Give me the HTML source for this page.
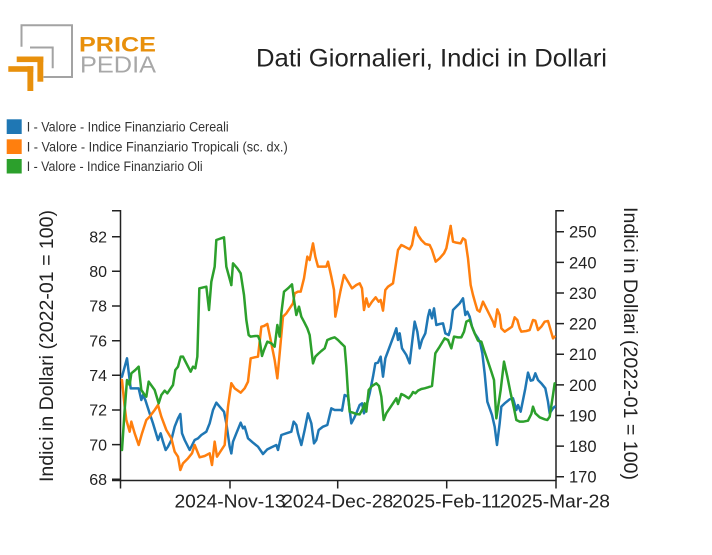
<!DOCTYPE html>
<html>
<head>
<meta charset="utf-8">
<style>
html,body{margin:0;padding:0;background:#fff;}
svg{display:block;}
text{font-family:"Liberation Sans",sans-serif;}
</style>
</head>
<body>
<svg width="712" height="555" viewBox="0 0 712 555" xmlns="http://www.w3.org/2000/svg">
<rect width="712" height="555" fill="#fff"/>

<!-- Logo -->
<g fill="none" stroke="#a3a3a3" stroke-width="2">
  <path d="M21.5,46.7 V25.3 H72 V77 H43.5"/>
  <path d="M30,47.5 H52.7 V68.3"/>
</g>
<g fill="#e8900c">
  <rect x="16.7" y="56.5" width="26.6" height="5.6"/>
  <rect x="37.4" y="56.5" width="5.9" height="25.2"/>
  <rect x="8.3" y="66.2" width="25" height="5.6"/>
  <rect x="27.4" y="66.2" width="5.9" height="24.8"/>
</g>
<text x="79" y="51.7" font-size="21" font-weight="bold" fill="#e8900c" textLength="77" lengthAdjust="spacingAndGlyphs">PRICE</text>
<text x="80" y="72.5" font-size="23" fill="#a8a8a8" textLength="76" lengthAdjust="spacingAndGlyphs">PEDIA</text>

<!-- Title -->
<text x="256" y="66.7" font-size="25" fill="#222" textLength="351" lengthAdjust="spacingAndGlyphs">Dati Giornalieri, Indici in Dollari</text>

<!-- Legend -->
<rect x="6.7" y="119.3" width="15" height="14.7" fill="#1f77b4"/>
<rect x="6.7" y="139.3" width="15" height="14.7" fill="#ff7f0e"/>
<rect x="6.7" y="159" width="15" height="14.5" fill="#2ca02c"/>
<text x="26.7" y="131.7" font-size="13.5" fill="#333" textLength="202" lengthAdjust="spacingAndGlyphs">I - Valore - Indice Finanziario Cereali</text>
<text x="26.7" y="151.7" font-size="13.5" fill="#333" textLength="261" lengthAdjust="spacingAndGlyphs">I - Valore - Indice Finanziario Tropicali (sc. dx.)</text>
<text x="26.7" y="170.9" font-size="13.5" fill="#333" textLength="176" lengthAdjust="spacingAndGlyphs">I - Valore - Indice Finanziario Oli</text>

<!-- Axes -->
<g stroke="#222" stroke-width="1.5" fill="none">
  <path d="M112,210.7 H120.5 V480.5 H112"/>
  <path d="M564,210.7 H556 V480.5"/>
  <path d="M120.5,488.5 V480.5 H556 V488.5"/>
  <!-- left ticks -->
  <path d="M112,479.3H120.5M112,444.6H120.5M112,410H120.5M112,375.3H120.5M112,340.7H120.5M112,306H120.5M112,271.3H120.5M112,236.7H120.5"/>
  <!-- right ticks -->
  <path d="M556,476.7H564M556,446.1H564M556,415.5H564M556,384.9H564M556,354.2H564M556,323.6H564M556,293H564M556,262.4H564M556,231.7H564"/>
  <!-- bottom ticks -->
  <path d="M230,480.5V488.5M337.7,480.5V488.5M446.7,480.5V488.5"/>
</g>

<!-- left tick labels -->
<g font-size="16" fill="#222" text-anchor="end">
  <text x="107" y="485">68</text>
  <text x="107" y="450.3">70</text>
  <text x="107" y="415.7">72</text>
  <text x="107" y="381">74</text>
  <text x="107" y="346.4">76</text>
  <text x="107" y="311.7">78</text>
  <text x="107" y="277">80</text>
  <text x="107" y="242.4">82</text>
</g>
<!-- right tick labels -->
<g font-size="16.5" fill="#222">
  <text x="569" y="482.6">170</text>
  <text x="569" y="452">180</text>
  <text x="569" y="421.4">190</text>
  <text x="569" y="390.8">200</text>
  <text x="569" y="360.1">210</text>
  <text x="569" y="329.5">220</text>
  <text x="569" y="298.9">230</text>
  <text x="569" y="268.3">240</text>
  <text x="569" y="237.6">250</text>
</g>
<!-- bottom tick labels -->
<g font-size="18.5" fill="#222" text-anchor="middle">
  <text x="230" y="507.7" textLength="111" lengthAdjust="spacingAndGlyphs">2024-Nov-13</text>
  <text x="337.7" y="507.7" textLength="111" lengthAdjust="spacingAndGlyphs">2024-Dec-28</text>
  <text x="446.7" y="507.7" textLength="109" lengthAdjust="spacingAndGlyphs">2025-Feb-11</text>
  <text x="555" y="507.7" textLength="110" lengthAdjust="spacingAndGlyphs">2025-Mar-28</text>
</g>

<!-- axis titles -->
<text transform="translate(53,346) rotate(-90)" text-anchor="middle" font-size="19.5" fill="#222" textLength="272" lengthAdjust="spacingAndGlyphs">Indici in Dollari (2022-01 = 100)</text>
<text transform="translate(624,343.5) rotate(90)" text-anchor="middle" font-size="19.5" fill="#222" textLength="273" lengthAdjust="spacingAndGlyphs">Indici in Dollari (2022-01 = 100)</text>

<!-- Series -->
<g fill="none" stroke-width="2.5" stroke-linejoin="round" stroke-linecap="round">
  <!-- panel 1 -->
  <g transform="translate(118,220) scale(0.333333)">
    <polyline vector-effect="non-scaling-stroke" stroke="#1f77b4" points="12,470 27,415 38,505 62,505 70,540 75,525 82,540 95,580 105,610 120,660 128,640 135,665 143,690 150,680 160,660 170,620 180,595 187,582 192,640 200,660 215,690 230,660 240,655 250,645 265,635 275,610 285,570 295,548 305,560 318,575 325,610 335,680 340,700"/>
    <polyline vector-effect="non-scaling-stroke" stroke="#ff7f0e" points="12,480 20,560 25,600 35,635 40,605 50,640 62,675 72,640 85,600 95,590 110,570 120,555 130,590 145,630 160,655 170,695 180,710 187,750 195,730 210,715 222,700 230,675 245,712 260,708 275,700 282,735 290,665 297,710 320,675 330,560 340,490"/>
    <polyline vector-effect="non-scaling-stroke" stroke="#2ca02c" points="12,690 20,570 27,480 35,495 40,460 52,450 62,440 70,510 80,525 85,530 92,485 110,510 122,550 130,525 140,512 148,520 165,495 172,450 180,440 188,410 195,410 205,430 218,455 225,440 232,445 238,410 244,205 265,200 273,270 280,185 290,140 295,60 318,52 325,140 340,195"/>
  </g>
  <!-- panel 2 -->
  <g transform="translate(228,220) scale(0.333333)">
    <polyline vector-effect="non-scaling-stroke" stroke="#1f77b4" points="10,700 15,665 25,640 38,608 45,625 50,620 60,655 75,668 90,680 105,702 118,688 130,682 145,675 150,690 160,645 175,640 190,635 197,605 205,615 210,640 220,675 230,630 240,580 250,610 258,670 265,660 272,630 285,620 298,615 310,565 320,570 340,570"/>
    <polyline vector-effect="non-scaling-stroke" stroke="#ff7f0e" points="10,490 20,505 38,518 50,505 60,485 68,415 80,412 90,410 100,320 108,318 118,312 128,360 140,420 148,475 155,400 165,290 175,280 185,265 195,250 200,220 210,215 218,215 228,175 238,110 245,120 255,70 262,110 270,140 282,140 295,140 300,125 310,170 318,210 322,290 330,250 338,210"/>
    <polyline vector-effect="non-scaling-stroke" stroke="#2ca02c" points="10,195 15,130 28,145 38,160 48,225 55,300 62,345 68,350 82,348 90,348 95,360 102,408 108,390 118,365 130,370 140,380 148,315 155,350 160,280 168,215 180,205 192,193 198,240 205,285 213,260 220,290 228,305 238,325 245,345 255,430 262,410 270,402 280,393 290,385 298,360 310,355 320,352 330,360 340,370"/>
  </g>
  <!-- panel 3 -->
  <g transform="translate(338,220) scale(0.333333)">
    <polyline vector-effect="non-scaling-stroke" stroke="#1f77b4" points="10,570 12,572 20,525 30,530 40,610 48,595 55,580 65,555 72,550 78,580 85,560 95,520 105,470 112,430 120,428 128,410 135,470 142,415 155,380 168,345 175,325 180,360 185,340 192,385 205,405 215,430 222,370 230,305 238,335 245,385 252,360 262,340 270,290 275,270 282,295 288,265 295,315 305,312 315,310 322,340 332,345"/>
    <polyline vector-effect="non-scaling-stroke" stroke="#ff7f0e" points="8,210 18,165 30,185 42,205 55,195 65,190 72,205 78,270 85,235 92,260 102,245 113,232 122,245 128,240 135,272 142,210 150,200 165,190 180,90 190,75 200,80 215,88 222,75 232,22 240,45 250,60 262,72 275,75 282,90 293,125 305,115 318,100 325,85 338,18"/>
    <polyline vector-effect="non-scaling-stroke" stroke="#2ca02c" points="10,370 20,380 25,440 30,520 35,575 45,578 55,582 65,583 75,565 80,550 85,575 92,510 102,498 115,490 123,498 130,530 137,600 145,580 155,565 165,550 175,535 180,552 190,522 200,527 212,535 220,525 225,516 232,520 240,512 250,507 260,505 270,502 282,498 292,400 305,380 320,355 330,360"/>
  </g>
  <!-- panel 4 -->
  <g transform="translate(448,220) scale(0.333333)">
    <polyline vector-effect="non-scaling-stroke" stroke="#1f77b4" points="2,345 8,325 15,270 25,260 35,250 45,235 52,285 58,275 65,290 72,320 80,340 90,355 97,370 103,400 110,460 118,545 125,565 132,585 140,620 147,675 155,610 160,560 170,550 185,538 195,535 205,570 210,555 218,575 225,540 232,505 240,458 248,482 255,480 262,460 270,480 280,490 292,505 300,545 305,580 315,565 320,560"/>
    <polyline vector-effect="non-scaling-stroke" stroke="#ff7f0e" points="8,18 15,65 25,68 38,70 45,55 52,60 60,115 68,195 75,225 82,250 88,270 95,275 105,245 115,265 125,285 135,305 140,320 148,268 155,285 160,325 170,335 185,325 192,320 200,292 208,300 215,325 220,335 235,333 245,330 255,300 262,302 270,330 280,320 290,305 300,303 305,320 315,355 320,350"/>
    <polyline vector-effect="non-scaling-stroke" stroke="#2ca02c" points="0,360 10,385 18,350 30,352 40,352 48,335 55,305 65,300 72,320 80,340 90,362 100,365 108,390 120,425 130,455 138,480 145,595 158,510 168,425 178,470 188,520 198,565 205,600 215,605 225,605 240,602 250,582 255,560 262,580 275,592 290,598 298,600 305,590 315,525 320,490"/>
  </g>
</g>
</svg>
</body>
</html>
